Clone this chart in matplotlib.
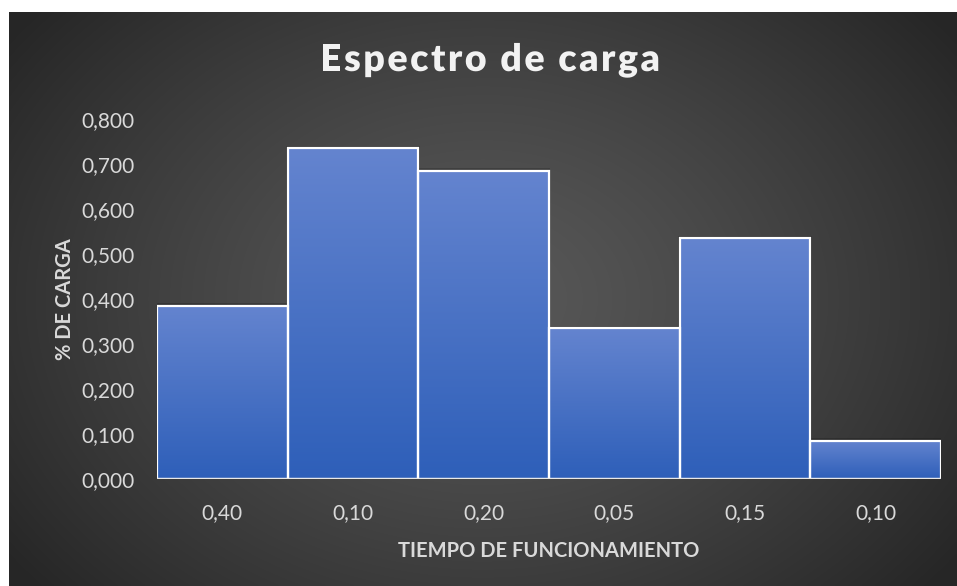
import numpy as np
import matplotlib
matplotlib.use("Agg")
import matplotlib.pyplot as plt
import matplotlib.patheffects as pe
from matplotlib.ticker import FuncFormatter

# ------------------------------------------------------------
# Data
# ------------------------------------------------------------

tiempo = ["0,40", "0,10", "0,20", "0,05", "0,15", "0,10"]
carga = [0.385, 0.735, 0.685, 0.335, 0.535, 0.085]

title = "Espectro de carga"
xlabel = "TIEMPO DE FUNCIONAMIENTO"
ylabel = "% DE CARGA"

# ------------------------------------------------------------
# Style
# ------------------------------------------------------------

plt.rcParams["font.family"] = ["Lato", "DejaVu Sans"]

W, H, DPI = 957, 586, 100
text_col = "#d9d9d9"
bar_top = np.array([100, 132, 207]) / 255
bar_bot = np.array([46, 95, 185]) / 255

fig = plt.figure(figsize=(W / DPI, H / DPI), dpi=DPI, facecolor="white")

# dark radial background, white strip on top and left
bg = fig.add_axes([9 / W, 0, (W - 9) / W, (H - 12) / H], zorder=0)
gx, gy = np.meshgrid(np.linspace(0, 1, 400), np.linspace(0, 1, 260))
r = np.sqrt(((gx - 0.5) / 0.62) ** 2 + ((gy - 0.50) / 0.78) ** 2)
r = np.clip(r, 0, 1)
lum = 0.345 - (0.345 - 0.150) * r ** 1.3
bg.imshow(np.dstack([lum, lum, lum]), aspect="auto", extent=(0, 1, 0, 1),
          interpolation="bilinear")
bg.set_axis_off()

# ------------------------------------------------------------
# Bars
# ------------------------------------------------------------

ax = fig.add_axes([157 / W, 1 - 479 / H, (941 - 157) / W, (479 - 119) / H],
                  zorder=1)
ax.patch.set_alpha(0)

x = np.arange(len(carga))
bars = ax.bar(x, carga, width=1.0, facecolor="none", edgecolor="white",
              linewidth=1.6, zorder=3)

grad = np.linspace(0, 1, 256)[:, None, None]
grad_img = bar_top * (1 - grad) + bar_bot * grad
for b in bars:
    x0, h, w = b.get_x(), b.get_height(), b.get_width()
    # soft shadow
    ax.add_patch(plt.Rectangle((x0 - 0.01, 0), w + 0.02, h + 0.006,
                               facecolor="black", alpha=0.18, zorder=1,
                               edgecolor="none"))
    im = ax.imshow(grad_img, extent=(x0, x0 + w, 0, h), aspect="auto",
                   interpolation="bilinear", zorder=2)
    im.set_clip_path(b)

ax.set_xlim(-0.5, len(carga) - 0.5)
ax.set_ylim(0, 0.8)
ax.set_yticks(np.arange(0, 0.81, 0.1))
ax.yaxis.set_major_formatter(
    FuncFormatter(lambda v, p: f"{v:.3f}".replace(".", ",")))
ax.set_xticks(x)
ax.set_xticklabels(tiempo)

for s in ax.spines.values():
    s.set_visible(False)
ax.axhline(0, color="#e8e8e8", linewidth=1.6, zorder=4)
ax.tick_params(length=0, colors=text_col, labelsize=15)
ax.tick_params(axis="y", pad=16)
ax.tick_params(axis="x", pad=17)

ax.set_xlabel(xlabel, color=text_col, fontsize=14.5, fontweight="bold",
              labelpad=13)
ax.set_ylabel(ylabel, color=text_col, fontsize=14.5, fontweight="bold",
              labelpad=5)

# ------------------------------------------------------------
# Title with letter spacing
# ------------------------------------------------------------

renderer = fig.canvas.get_renderer()
tkw = dict(fontsize=27, fontweight="heavy", color="#f2f2f2")
spacing = 2.5

t0 = fig.text(0, 0, "|", **tkw)
bar_w = t0.get_window_extent(renderer).width
t0.remove()


def text_w(s):
    t = fig.text(0, 0, s + "|", **tkw)
    w = t.get_window_extent(renderer).width
    t.remove()
    return w - bar_w


total = text_w(title) + spacing * (len(title) - 1)
left = 490 - total / 2
base_y = 1 - 71 / H
for i, ch in enumerate(title):
    px = left + text_w(title[:i]) + spacing * i
    t = fig.text(px / W, base_y, ch, ha="left", va="baseline", **tkw)
    t.set_path_effects([pe.SimpleLineShadow(offset=(1.2, -1.2), alpha=0.5),
                        pe.Normal()])

fig.savefig("out.png", dpi=DPI, facecolor="white")
